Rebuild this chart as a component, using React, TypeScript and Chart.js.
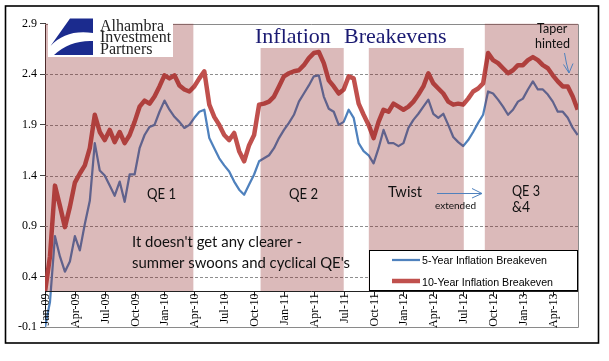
import React, { useEffect, useRef } from 'react';
import { Chart, registerables } from 'chart.js';

Chart.register(...registerables);

// ---- data ----
const xTickMonths = [0, 3, 6, 9, 12, 15, 18, 21, 24, 27, 30, 33, 36, 39, 42, 45, 48, 51];
const xTickLabels = ['Jan-09', 'Apr-09', 'Jul-09', 'Oct-09', 'Jan-10', 'Apr-10', 'Jul-10', 'Oct-10', 'Jan-11', 'Apr-11', 'Jul-11', 'Oct-11', 'Jan-12', 'Apr-12', 'Jul-12', 'Oct-12', 'Jan-13', 'Apr-13'];
const yTickValues = [-0.1, 0.4, 0.9, 1.4, 1.9, 2.4, 2.9];
const yTickLabels = ['-0.1', '0.4', '0.9', '1.4', '1.9', '2.4', '2.9'];
const xMin = 0;
const xMax = 53.53; // months since Jan-2009
const axisCross = 0.258;

// semi-monthly observations (Jan 2009 .. mid Jun 2013)
const fiveYear = [
  -0.10, 0.15, 0.80, 0.60, 0.45, 0.55, 0.80, 0.66, 0.92, 1.15,
  1.72, 1.45, 1.40, 1.30, 1.20, 1.34, 1.14, 1.41, 1.41, 1.67,
  1.80, 1.88, 1.90, 2.03, 2.14, 2.05, 1.98, 1.93, 1.87, 1.90,
  1.97, 2.03, 2.05, 1.77, 1.67, 1.57, 1.50, 1.44, 1.34, 1.26,
  1.21, 1.31, 1.41, 1.54, 1.57, 1.60, 1.67, 1.77, 1.85, 1.92,
  2.00, 2.13, 2.21, 2.29, 2.38, 2.39, 2.18, 2.06, 2.03, 1.90,
  1.93, 2.05, 1.97, 1.72, 1.64, 1.60, 1.52, 1.67, 1.85, 1.72,
  1.72, 1.69, 1.72, 1.87, 1.95, 2.01, 2.08, 2.15, 2.01, 1.97,
  2.01, 1.90, 1.78, 1.73, 1.69, 1.75, 1.83, 1.92, 2.00, 2.23,
  2.21, 2.15, 2.08, 2.00, 2.05, 2.13, 2.16, 2.25, 2.33, 2.25,
  2.25, 2.20, 2.13, 2.03, 2.03, 1.97, 1.87, 1.80,
];
const tenYear = [
  0.25, 0.60, 1.30, 1.10, 0.89, 1.09, 1.33, 1.42, 1.50, 1.67,
  2.00, 1.83, 1.75, 1.85, 1.73, 1.83, 1.72, 1.80, 1.93, 2.08,
  2.14, 2.11, 2.18, 2.28, 2.39, 2.36, 2.39, 2.29, 2.25, 2.23,
  2.28, 2.36, 2.43, 2.10, 1.98, 1.90, 1.80, 1.75, 1.82, 1.64,
  1.54, 1.70, 1.80, 2.10, 2.11, 2.13, 2.18, 2.28, 2.38, 2.41,
  2.43, 2.44, 2.49, 2.56, 2.61, 2.62, 2.51, 2.34, 2.28, 2.21,
  2.25, 2.38, 2.36, 2.11, 2.00, 1.90, 1.77, 1.93, 2.05, 2.03,
  2.11, 2.08, 2.05, 2.08, 2.13, 2.20, 2.28, 2.41, 2.31, 2.26,
  2.21, 2.13, 2.10, 2.11, 2.10, 2.16, 2.23, 2.26, 2.31, 2.61,
  2.54, 2.51, 2.46, 2.41, 2.44, 2.49, 2.49, 2.54, 2.57, 2.54,
  2.49, 2.46, 2.39, 2.33, 2.28, 2.28, 2.18, 2.05,
];
const obsMonths = fiveYear.map((_, i) => i / 2);

const periodStarts = [0, 21.65, 32.52, 44.17];
const periodEnds = [14.9, 30.0, 42.06, 53.53];
const periodTops = [2.9, 2.66, 2.66, 2.9];

const seriesNames = ['5-Year Inflation Breakeven', '10-Year Inflation Breakeven'];
const BLUE = '#4F81BD';
const RED = '#C0504D';

const overlayPlugin = {
  id: 'overlay',
  beforeDatasetsDraw(chart: any) {
    const { ctx, chartArea: a, scales } = chart;
    const y = scales.y;
    ctx.save();
    ctx.strokeStyle = '#8e8e8e';
    ctx.lineWidth = 1;
    ctx.setLineDash([3, 2]);
    yTickValues.forEach((v) => {
      if (v <= -0.1 || v >= 2.9) return;
      const py = Math.round(y.getPixelForValue(v)) + 0.5;
      ctx.beginPath();
      ctx.moveTo(a.left, py);
      ctx.lineTo(a.right, py);
      ctx.stroke();
    });
    ctx.setLineDash([]);
    ctx.strokeStyle = '#8a8a8a';
    ctx.beginPath();
    ctx.moveTo(a.left, Math.round(a.top) + 0.5);
    ctx.lineTo(Math.round(a.right) + 0.5, Math.round(a.top) + 0.5);
    ctx.lineTo(Math.round(a.right) + 0.5, Math.round(a.bottom) + 0.5);
    ctx.lineTo(a.left, Math.round(a.bottom) + 0.5);
    ctx.stroke();
    ctx.restore();
  },
  afterDatasetsDraw(chart: any) {
    const { ctx, chartArea: a, scales } = chart;
    const x = scales.x;
    const y = scales.y;
    const yAxis = y.getPixelForValue(axisCross);
    ctx.save();
    // shaded QE periods (drawn translucent over the lines)
    ctx.fillStyle = 'rgba(135,25,25,0.3)';
    periodStarts.forEach((s, i) => {
      const x0 = x.getPixelForValue(s);
      const x1 = x.getPixelForValue(periodEnds[i]);
      const y0 = y.getPixelForValue(periodTops[i]);
      ctx.fillRect(x0, y0, x1 - x0, yAxis - y0);
    });

    // horizontal category axis crossing inside plot
    ctx.strokeStyle = '#222';
    ctx.lineWidth = 1;
    const ay = Math.round(yAxis) + 0.5;
    ctx.beginPath();
    ctx.moveTo(a.left, ay);
    ctx.lineTo(a.right, ay);
    ctx.stroke();
    ctx.fillStyle = '#000';
    ctx.font = '12px "Liberation Serif", "Times New Roman", serif';
    ctx.textAlign = 'right';
    ctx.textBaseline = 'middle';
    xTickMonths.forEach((m, i) => {
      const px = Math.round(x.getPixelForValue(m)) + 0.5;
      ctx.beginPath();
      ctx.moveTo(px, ay);
      ctx.lineTo(px, ay + 5);
      ctx.stroke();
      ctx.save();
      ctx.translate(px, ay + 2);
      ctx.rotate(-Math.PI / 2);
      ctx.fillText(xTickLabels[i], 0, 0);
      ctx.restore();
    });

    // annotations
    const sans = (s: number) => `${s}px Lato, "Open Sans", sans-serif`;
    ctx.textAlign = 'left';
    ctx.textBaseline = 'alphabetic';
    ctx.fillStyle = '#111';
    ctx.font = sans(15);
    ctx.fillText('QE 1', 147, 198.5, 29);
    ctx.fillText('QE 2', 289, 198.5, 29);
    ctx.fillText('Twist', 388, 197, 34);
    ctx.fillText('QE 3', 512, 196, 28);
    ctx.fillText('&4', 512, 212, 18);
    ctx.fillText("It doesn't get any clearer -", 132, 247, 170);
    ctx.fillText("summer swoons and cyclical QE's", 132, 268, 218);
    ctx.font = sans(10);
    ctx.fillText('extended', 435, 209, 42);
    ctx.font = sans(12.5);
    ctx.fillText('Taper', 537, 33, 31);
    ctx.fillText('hinted', 535, 48, 35);

    // arrows
    ctx.strokeStyle = BLUE;
    ctx.lineWidth = 1;
    ctx.beginPath();
    ctx.moveTo(437, 193.5);
    ctx.lineTo(482, 193.5);
    ctx.moveTo(472, 188.5);
    ctx.lineTo(482, 193.5);
    ctx.lineTo(472, 198);
    ctx.stroke();
    ctx.beginPath();
    ctx.moveTo(564.5, 53);
    ctx.quadraticCurveTo(566, 63, 569, 73);
    ctx.moveTo(563.5, 64.5);
    ctx.lineTo(569, 73);
    ctx.lineTo(573, 63.5);
    ctx.stroke();

    // legend
    ctx.fillStyle = '#fff';
    ctx.fillRect(369, 250, 209, 41);
    ctx.strokeStyle = '#000';
    ctx.strokeRect(369.5, 250.5, 208, 40);
    ctx.lineCap = 'butt';
    ctx.strokeStyle = BLUE;
    ctx.lineWidth = 2.25;
    ctx.beginPath();
    ctx.moveTo(392, 260);
    ctx.lineTo(420, 260);
    ctx.stroke();
    ctx.strokeStyle = RED;
    ctx.lineWidth = 4.5;
    ctx.beginPath();
    ctx.moveTo(392, 281);
    ctx.lineTo(420, 281);
    ctx.stroke();
    ctx.fillStyle = '#000';
    ctx.font = '11px "Liberation Sans", Arial, sans-serif';
    ctx.fillText(seriesNames[0], 422, 264, 125);
    ctx.fillText(seriesNames[1], 422, 285.5, 131);

    // title
    ctx.fillStyle = '#1a1a72';
    ctx.font = '22px "Liberation Serif", "Times New Roman", serif';
    ctx.fillText('Inflation', 255, 43);
    ctx.fillText('Breakevens', 344, 43);

    // logo
    ctx.fillStyle = '#fff';
    ctx.fillRect(48, 17, 125, 40);
    ctx.fillStyle = '#1b2b8e';
    ctx.beginPath();
    ctx.moveTo(70, 18.5);
    ctx.lineTo(93, 18.5);
    ctx.lineTo(93, 33);
    ctx.quadraticCurveTo(66, 29, 50.5, 46);
    ctx.closePath();
    ctx.fill();
    ctx.beginPath();
    ctx.moveTo(54, 55);
    ctx.quadraticCurveTo(70, 40, 93, 41);
    ctx.lineTo(93, 55);
    ctx.closePath();
    ctx.fill();
    ctx.fillStyle = '#222';
    ctx.font = '16px "Liberation Serif", "Times New Roman", serif';
    ctx.fillText('Alhambra', 100, 30.7);
    ctx.fillText('Investment', 100, 42.2);
    ctx.fillText('Partners', 100, 54);

    // outer frame
    ctx.strokeStyle = '#000';
    ctx.lineWidth = 1.6;
    ctx.strokeRect(5.5, 6, 593, 337);
    ctx.restore();
  },
};

export default function App() {
  const ref = useRef<HTMLCanvasElement | null>(null);
  useEffect(() => {
    if (!ref.current) return;
    const chart = new Chart(ref.current, {
      type: 'line',
      data: {
        datasets: [
          {
            label: seriesNames[1],
            data: tenYear.map((v, i) => ({ x: obsMonths[i], y: v })),
            borderColor: RED,
            borderWidth: 4.5,
            pointRadius: 0,
            tension: 0,
            borderJoinStyle: 'round',
            order: 1,
          },
          {
            label: seriesNames[0],
            data: fiveYear.map((v, i) => ({ x: obsMonths[i], y: v })),
            borderColor: BLUE,
            borderWidth: 2.25,
            pointRadius: 0,
            tension: 0,
            borderJoinStyle: 'round',
            order: 2,
          },
        ],
      },
      options: {
        animation: false,
        responsive: false,
        devicePixelRatio: 1,
        layout: { padding: { left: 0, right: 31, top: 23.7, bottom: 33.7 } },
        plugins: { legend: { display: false }, tooltip: { enabled: false } },
        scales: {
          x: { type: 'linear', min: xMin, max: xMax, display: false },
          y: {
            type: 'linear',
            min: -0.1,
            max: 2.9,
            afterBuildTicks: (scale: any) => {
              scale.ticks = yTickValues.map((v) => ({ value: v }));
            },
            afterFit: (scale: any) => {
              scale.width = 45;
            },
            ticks: {
              callback: (_v: any, i: number) => yTickLabels[i],
              font: { family: '"Liberation Serif", "Times New Roman", serif', size: 12 },
              color: '#000',
              padding: 3,
            },
            grid: { drawOnChartArea: false, drawTicks: true, tickLength: 5, tickColor: '#444' },
            border: { display: true, color: '#333', width: 1 },
          },
        },
      },
      plugins: [overlayPlugin],
    } as any);
    return () => chart.destroy();
  }, []);
  return (
    <div style={{ position: 'absolute', left: 0, top: 0, width: 609, height: 361, background: '#fff' }}>
      <canvas ref={ref} width={609} height={361} style={{ display: 'block', width: 609, height: 361 }} />
    </div>
  );
}
